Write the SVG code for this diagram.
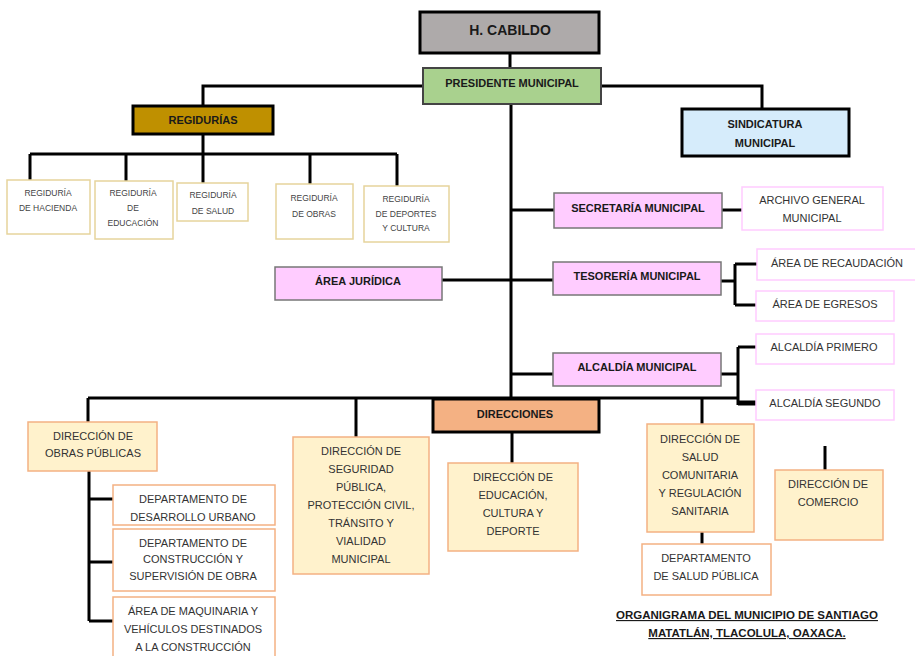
<svg xmlns="http://www.w3.org/2000/svg" width="915" height="656" viewBox="0 0 915 656">
<style>
text{font-family:"Liberation Sans",Arial,sans-serif;text-anchor:middle;fill:#333}
.b{font-weight:bold;fill:#1a1a1a;font-size:11px}
.r{font-size:11px}
.s{font-size:8.5px;fill:#444}
.conn{stroke:#000;stroke-width:3;fill:none}
.blk{stroke:#000;stroke-width:3}
.pink{fill:#ffccff;stroke:#777;stroke-width:1.5}
.pinko{fill:#fff;stroke:#ffccff;stroke-width:1.5}
.dir{fill:#fff2cc;stroke:#f4b183;stroke-width:1.5}
.dep{fill:#fff;stroke:#f4b183;stroke-width:1.5}
.reg{fill:#fff;stroke:#e6d49c;stroke-width:1.5}
</style>
<rect width="915" height="656" fill="#fff"/>
<g id="connectors" class="conn">
<path d="M510 53V68"/>
<path d="M423 86H203V106"/>
<path d="M601 86H762V109"/>
<path d="M203 134V154M30 154H397M30 154V180M126 154V181M203 154V183M310 154V184M397 154V186"/>
<path d="M511 104V398"/>
<path d="M511 210H554M722 210H742"/>
<path d="M442 280H553"/>
<path d="M721 281H735M735 264V305M735 264H757M735 305H756"/>
<path d="M511 374H553M721 374H738M738 347V405M738 347H756"/>
<path d="M738 403H756" stroke-width="5"/>
<path d="M88 398H738"/>
<path d="M88 398V422M356 398V437M702 398V424"/>
<path d="M512 432V463"/>
<path d="M825 446V470"/>
<path d="M89 471V621M89 499H113M89 562H113M89 621H113"/>
<path d="M702 532V544"/>
</g>
<g id="cabildo"><rect x="420" y="12" width="179" height="41" fill="#aeaaaa" class="blk"/><text x="510" y="35" class="b" style="font-size:14px">H. CABILDO</text></g>
<g id="presidente"><rect x="423" y="68" width="178" height="36" fill="#a9d18e" stroke="#444" stroke-width="2"/><text x="512" y="87" class="b">PRESIDENTE MUNICIPAL</text></g>
<g id="regidurias"><rect x="133" y="106" width="140" height="28" fill="#bf9000" class="blk"/><text x="203" y="124" class="b">REGIDURÍAS</text></g>
<g id="sindicatura"><rect x="682" y="109" width="167" height="47" fill="#d6ecfb" class="blk"/><text x="765" y="128" class="b">SINDICATURA</text><text x="765" y="147" class="b">MUNICIPAL</text></g>
<g id="reg-hacienda"><rect x="7" y="180" width="83" height="54" class="reg"/><text x="48" y="196" class="s">REGIDURÍA</text><text x="48" y="211" class="s">DE HACIENDA</text></g>
<g id="reg-educacion"><rect x="95" y="181" width="78" height="58" class="reg"/><text x="133" y="196" class="s">REGIDURÍA</text><text x="133" y="211" class="s">DE</text><text x="133" y="226" class="s">EDUCACIÓN</text></g>
<g id="reg-salud"><rect x="177" y="183" width="71" height="38" class="reg"/><text x="213" y="198" class="s">REGIDURÍA</text><text x="213" y="214" class="s">DE SALUD</text></g>
<g id="reg-obras"><rect x="276" y="184" width="77" height="55" class="reg"/><text x="314" y="201" class="s">REGIDURÍA</text><text x="314" y="217" class="s">DE OBRAS</text></g>
<g id="reg-deportes"><rect x="364" y="186" width="85" height="56" class="reg"/><text x="406" y="202" class="s">REGIDURÍA</text><text x="406" y="217" class="s">DE DEPORTES</text><text x="406" y="231" class="s">Y CULTURA</text></g>
<g id="secretaria"><rect x="554" y="193" width="168" height="35" class="pink"/><text x="638" y="212" class="b">SECRETARÍA MUNICIPAL</text></g>
<g id="archivo"><rect x="742" y="187" width="141" height="43" class="pinko"/><text x="812" y="204" class="r">ARCHIVO GENERAL</text><text x="812" y="222" class="r">MUNICIPAL</text></g>
<g id="juridica"><rect x="275" y="267" width="167" height="33" class="pink"/><text x="358" y="285" class="b">ÁREA JURÍDICA</text></g>
<g id="tesoreria"><rect x="553" y="262" width="168" height="33" class="pink"/><text x="637" y="280" class="b">TESORERÍA MUNICIPAL</text></g>
<g id="recaudacion"><rect x="757" y="249" width="165" height="31" class="pinko"/><text x="837" y="267" class="r">ÁREA DE RECAUDACIÓN</text></g>
<g id="egresos"><rect x="756" y="291" width="138" height="30" class="pinko"/><text x="825" y="308" class="r">ÁREA DE EGRESOS</text></g>
<g id="alcaldia"><rect x="553" y="353" width="168" height="33" class="pink"/><text x="637" y="371" class="b">ALCALDÍA MUNICIPAL</text></g>
<g id="alc-primero"><rect x="756" y="334" width="138" height="30" class="pinko"/><text x="824" y="351" class="r">ALCALDÍA PRIMERO</text></g>
<g id="alc-segundo"><rect x="756" y="390" width="138" height="30" class="pinko"/><text x="825" y="407" class="r">ALCALDÍA SEGUNDO</text></g>
<g id="direcciones"><rect x="433" y="399" width="166" height="33" fill="#f4b183" class="blk"/><text x="515" y="418" class="b">DIRECCIONES</text></g>
<g id="obras-publicas"><rect x="28" y="422" width="129" height="49" class="dir"/><text x="93" y="440" class="r">DIRECCIÓN DE</text><text x="93" y="457" class="r">OBRAS PÚBLICAS</text></g>
<g id="desarrollo"><rect x="113" y="485" width="162" height="40" class="dep"/><text x="193" y="503" class="r">DEPARTAMENTO DE</text><text x="193" y="521" class="r">DESARROLLO URBANO</text></g>
<g id="construccion"><rect x="113" y="529" width="162" height="62" class="dep"/><text x="193" y="547" class="r">DEPARTAMENTO DE</text><text x="193" y="563" class="r">CONSTRUCCIÓN Y</text><text x="193" y="580" class="r">SUPERVISIÓN DE OBRA</text></g>
<g id="maquinaria"><rect x="113" y="597" width="162" height="70" class="dep"/><text x="193" y="615" class="r">ÁREA DE MAQUINARIA Y</text><text x="193" y="633" class="r">VEHÍCULOS DESTINADOS</text><text x="193" y="651" class="r">A LA CONSTRUCCIÓN</text></g>
<g id="seguridad"><rect x="293" y="437" width="136" height="137" class="dir"/><text x="361" y="455" class="r">DIRECCIÓN DE</text><text x="361" y="473" class="r">SEGURIDAD</text><text x="361" y="491" class="r">PÚBLICA,</text><text x="361" y="509" class="r">PROTECCIÓN CIVIL,</text><text x="361" y="527" class="r">TRÁNSITO Y</text><text x="361" y="545" class="r">VIALIDAD</text><text x="361" y="563" class="r">MUNICIPAL</text></g>
<g id="educacion"><rect x="448" y="463" width="130" height="88" class="dir"/><text x="513" y="481" class="r">DIRECCIÓN DE</text><text x="513" y="499" class="r">EDUCACIÓN,</text><text x="513" y="517" class="r">CULTURA Y</text><text x="513" y="535" class="r">DEPORTE</text></g>
<g id="salud-comunitaria"><rect x="647" y="424" width="107" height="108" class="dir"/><text x="700" y="443" class="r">DIRECCIÓN DE</text><text x="700" y="461" class="r">SALUD</text><text x="700" y="479" class="r">COMUNITARIA</text><text x="700" y="497" class="r">Y REGULACIÓN</text><text x="700" y="515" class="r">SANITARIA</text></g>
<g id="salud-publica"><rect x="642" y="544" width="129" height="51" class="dep"/><text x="706" y="562" class="r">DEPARTAMENTO</text><text x="706" y="580" class="r">DE SALUD PÚBLICA</text></g>
<g id="comercio"><rect x="775" y="470" width="108" height="70" class="dir"/><text x="828" y="488" class="r">DIRECCIÓN DE</text><text x="828" y="506" class="r">COMERCIO</text></g>
<g id="title"><text x="747" y="619" class="b" style="font-size:11.5px;text-decoration:underline">ORGANIGRAMA DEL MUNICIPIO DE SANTIAGO</text><text x="747" y="637" class="b" style="font-size:11.5px;text-decoration:underline">MATATLÁN, TLACOLULA, OAXACA.</text></g>
</svg>
